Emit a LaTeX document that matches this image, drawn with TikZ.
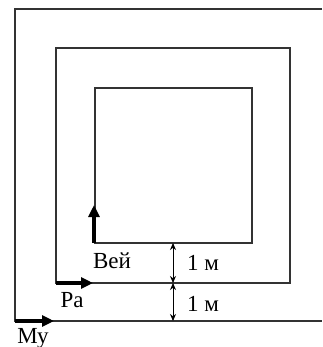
\documentclass[tikz,border=0pt]{standalone}
\usepackage{fontspec}
\setmainfont{Liberation Serif}
\usetikzlibrary{arrows.meta,positioning}

\begin{document}
\begin{tikzpicture}[x=1pt,y=-1pt,
            wall/.style={line width=1.2pt, draw=black!80},
            walker/.style={line width=4.2pt,
                -{Triangle[length=12pt,width=11pt]}},
            dim/.style={line width=0.9pt,
                {Stealth[length=7pt,width=6pt]}-{Stealth[length=7pt,width=6pt]}},
            lbl/.style={font=\fontsize{23}{23}\selectfont, inner sep=0pt}]

            \useasboundingbox (0,0) rectangle (322,347);

            % paths round the squares
            \draw [wall] (322,9) -- (15,9) -- (15,321) -- (322,321);
            \draw [wall] (56,48) rectangle (290,283);
            \draw [wall] (95,88) rectangle (252,243);

            % start points
            \coordinate (v0) at (94,243);
            \coordinate (v1) at (94,205);
            \coordinate (r0) at (56,283);
            \coordinate (r1) at (93,283);
            \coordinate (m0) at (15,321);
            \coordinate (m1) at (54,321);
            \coordinate (d0) at (173,243);
            \coordinate (d1) at (173,283);
            \coordinate (d2) at (173,321);

            \draw [walker] (v0) -- (v1);
            \draw [walker] (r0) -- (r1);
            \draw [walker] (m0) -- (m1);
            \draw [dim] (d0) -- (d1);
            \draw [dim] (d1) -- (d2);

            \node [lbl] (vei) at (112,261) {Вей};
            \node [lbl] (ra) at (72,300) {Ра};
            \node [lbl] (mu) at (33,338) {Му};
            \node [lbl,anchor=west] (g1) at (187,263) {1 м};
            \node [lbl,anchor=west] (g2) at (187,304) {1 м};
        \end{tikzpicture}
\end{document}
